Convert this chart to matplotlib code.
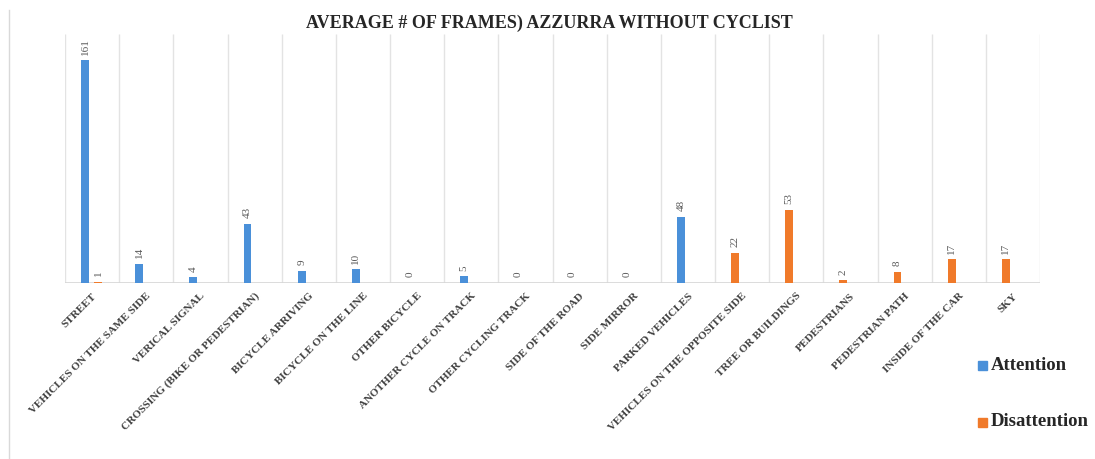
import matplotlib
matplotlib.use("Agg")
import matplotlib.pyplot as plt
import numpy as np

categories = [
    "STREET", "VEHICLES ON THE SAME SIDE", "VERICAL SIGNAL",
    "CROSSING (BIKE OR PEDESTRIAN)", "BICYCLE ARRIVING", "BICYCLE ON THE LINE",
    "OTHER BICYCLE", "ANOTHER CYCLE ON TRACK", "OTHER CYCLING TRACK",
    "SIDE OF THE ROAD", "SIDE MIRROR", "PARKED VEHICLES",
    "VEHICLES ON THE OPPOSITE SIDE", "TREE OR BUILDINGS", "PEDESTRIANS",
    "PEDESTRIAN PATH", "INSIDE OF THE CAR", "SKY",
]
attention = [161, 14, 4, 43, 9, 10, 0, 5, 0, 0, 0, 48,
             None, None, None, None, None, None]
disattention = [1, None, None, None, None, None, None, None, None, None, None, None,
                22, 53, 2, 8, 17, 17]

title = "AVERAGE # OF FRAMES) AZZURRA WITHOUT CYCLIST"
series_names = ["Attention", "Disattention"]

BLUE = "#4A90D9"
ORANGE = "#F07A2A"
LABEL_GRAY = "#595959"
GRID = "#E3E3E3"
SERIF = ["Liberation Serif", "DejaVu Serif"]

W, H = 1095, 459
fig = plt.figure(figsize=(W / 100, H / 100), dpi=100)
ax = fig.add_axes([65 / W, (H - 283) / H, (1040 - 65) / W, (283 - 34) / H])

n = len(categories)
x = np.arange(n)
bar_w = 0.145
left_off, right_off = -0.13, 0.11

# Build bar positions: the first value of each category sits in the left slot,
# a second value (if any) goes into the right slot.
bx, bh, bc = [], [], []
for i in range(n):
    a, d = attention[i], disattention[i]
    if a is not None:
        bx.append(i + left_off); bh.append(a); bc.append(BLUE)
        if d is not None:
            bx.append(i + right_off); bh.append(d); bc.append(ORANGE)
    elif d is not None:
        bx.append(i + left_off); bh.append(d); bc.append(ORANGE)

ymax = 180
ax.set_xlim(-0.5, n - 0.5)
ax.set_ylim(0, ymax)

# Vertical gridlines at category boundaries
ax.vlines(np.arange(n + 1) - 0.5, 0, ymax, colors=GRID, linewidth=1.0, zorder=0)
ax.axhline(0, color="#D6D6D6", linewidth=1.2, zorder=1)

bars = ax.bar(bx, bh, width=bar_w, color=bc, zorder=2)

for xi, hi in zip(bx, bh):
    ax.annotate(f"{hi:g}", (xi, hi), xytext=(0, 4), textcoords="offset points",
                rotation=90, ha="center", va="bottom", fontsize=8,
                color=LABEL_GRAY, family=SERIF)

for s in ax.spines.values():
    s.set_visible(False)
ax.set_yticks([])
ax.set_xticks(x)
ax.set_xticklabels(categories, rotation=45, ha="right", rotation_mode="anchor",
                   fontsize=8, fontweight="bold", color="#404040", family=SERIF)
ax.tick_params(axis="x", length=0, pad=6)

fig.text(549 / W, 1 - 23 / H, title, ha="center", va="center", fontsize=13,
         fontweight="bold", color="#262626", family=SERIF)

# Legend entries on the right
for k, (name, col, yy) in enumerate(zip(series_names, [BLUE, ORANGE], [365, 422])):
    fig.patches.append(plt.Rectangle((978 / W, 1 - (yy + 4.5) / H), 9 / W, 9 / H,
                                     transform=fig.transFigure, color=col))
    fig.text(991 / W, 1 - yy / H, name, ha="left", va="center", fontsize=13.5,
             fontweight="bold", color="#262626", family=SERIF)

# Chart frame edge on the left
fig.add_artist(plt.Line2D([9 / W, 9 / W], [0, 1 - 10 / H], transform=fig.transFigure,
                          color="#D9D9D9", linewidth=1))

fig.savefig("out.png", dpi=100)
